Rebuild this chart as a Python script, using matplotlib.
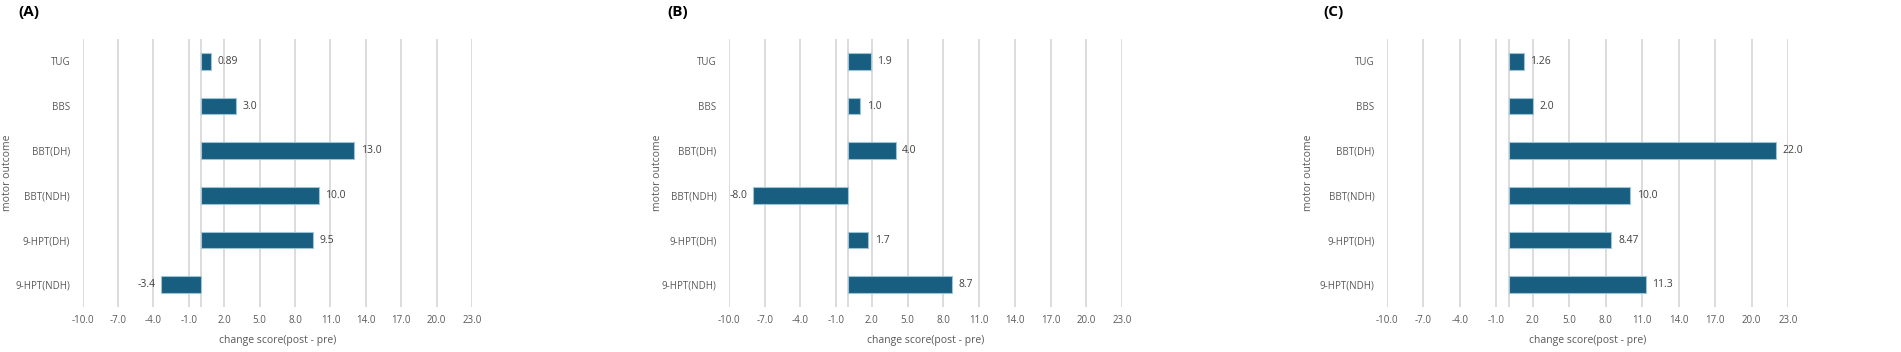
import numpy as np
import matplotlib.pyplot as plt

plt.rcParams['font.family'] = ['Open Sans', 'DejaVu Sans']

outcomes = ["TUG", "BBS", "BBT(DH)", "BBT(NDH)", "9-HPT(DH)", "9-HPT(NDH)"]

vals_a = [0.89, 3.0, 13.0, 10.0, 9.5, -3.4]
labels_a = ["0.89", "3.0", "13.0", "10.0", "9.5", "-3.4"]
vals_b = [1.9, 1.0, 4.0, -8.0, 1.7, 8.7]
labels_b = ["1.9", "1.0", "4.0", "-8.0", "1.7", "8.7"]
vals_c = [1.26, 2.0, 22.0, 10.0, 8.47, 11.3]
labels_c = ["1.26", "2.0", "22.0", "10.0", "8.47", "11.3"]

panels = ["(A)", "(B)", "(C)"]
xticks = np.arange(-10, 24, 3)

W, H = 1901, 352
fig = plt.figure(figsize=(W / 100, H / 100), dpi=100)

# axes placement in pixels: (left, right), y-label x, panel-label x
spans = [(82.7, 472), (729, 1122), (1387, 1788)]
ylab_x = [8, 657, 1308]
panel_x = [18, 667, 1323]
top, bottom = 39, 307
bar_col = "#175e80"
grid_col = "#d9d9d9"
txt_col = "#595959"

for i, (vals, labs) in enumerate([(vals_a, labels_a), (vals_b, labels_b), (vals_c, labels_c)]):
    l, r = spans[i]
    ax = fig.add_axes([l / W, 1 - bottom / H, (r - l) / W, (bottom - top) / H])
    y = np.arange(len(outcomes))
    ax.barh(y, vals, height=0.37, color=bar_col, edgecolor="#9cc3d6", linewidth=0.8, zorder=3)
    ax.set_xlim(-10, 23)
    ax.set_ylim(len(outcomes) - 0.5, -0.5)
    ax.set_xticks(xticks)
    ax.set_xticklabels([f"{t:.1f}" for t in xticks])
    ax.set_yticks(y)
    ax.set_yticklabels(outcomes)
    for t in xticks:
        ax.axvline(t, color=grid_col, lw=1.3, zorder=0)
    ax.axvline(0, color=grid_col, lw=1.3, zorder=1)
    for s in ax.spines.values():
        s.set_visible(False)
    ax.tick_params(length=0, labelsize=7, colors=txt_col, pad=6)
    ax.tick_params(axis='y', pad=9)
    for yy, v, lab in zip(y, vals, labs):
        if v >= 0:
            ax.text(v + 0.55, yy, lab, va="center", ha="left", fontsize=7.5, color="#404040")
        else:
            ax.text(v - 0.45, yy, lab, va="center", ha="right", fontsize=7.5, color="#404040")
    ax.set_xlabel("change score(post - pre)", fontsize=7.5, color=txt_col, labelpad=6)
    fig.text(ylab_x[i] / W, 1 - 173 / H, "motor outcome", rotation=90,
             fontsize=7.5, color=txt_col, va="center", ha="center")
    fig.text(panel_x[i] / W, 1 - 12 / H, panels[i],
             fontsize=11, fontweight="bold", va="center", ha="left")

fig.savefig("out.png", dpi=100)
